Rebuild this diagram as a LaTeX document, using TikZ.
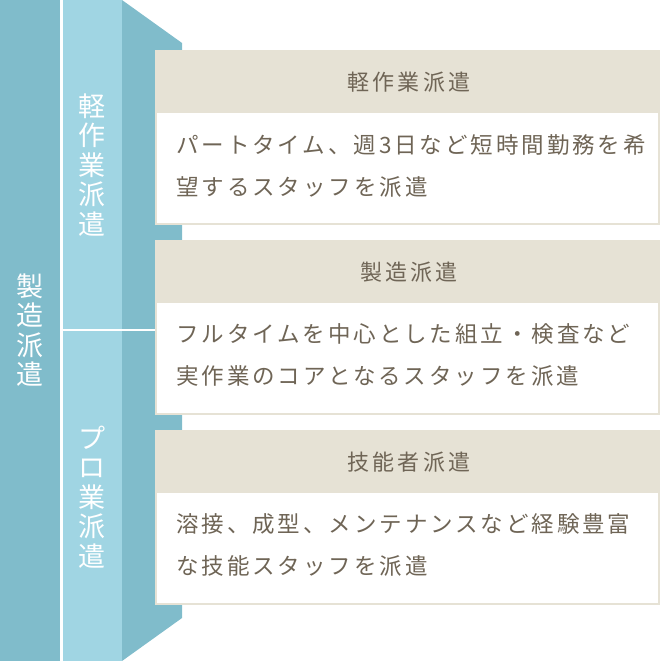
\documentclass[tikz,border=0pt]{standalone}
\usepackage{fontspec}
\setmainfont{Noto Sans CJK JP}
\newfontfamily\spacedfont[LetterSpace=13]{Noto Sans CJK JP}
\newfontfamily\headfont[LetterSpace=15]{Noto Sans CJK JP}
\usepackage{tikz}

\definecolor{colDark}{HTML}{80BCCB}
\definecolor{colLight}{HTML}{A0D5E3}
\definecolor{colBeige}{HTML}{E6E2D5}
\definecolor{colText}{HTML}{6F6556}

\begin{document}
\begin{tikzpicture}[x=1pt, y=-1pt,
  every node/.style = {inner sep=0pt},
  vlabel/.style = {align=center, text=white, font=\fontsize{27}{29.5}\selectfont},
  cardhead/.style = {text=colText, font=\headfont\fontsize{22}{25}\selectfont},
  cardbody/.style = {anchor=west, align=left, text=colText,
    font=\spacedfont\fontsize{22.5}{42}\selectfont}]
  \useasboundingbox (0,0) rectangle (661,661);
  % columns
  \fill[colDark] (0,0) rectangle (60,661);
  \fill[colLight] (63,0) rectangle (122,661);
  \fill[colDark] (122,0) -- (182,43) -- (182,618) -- (122,661) -- cycle;
  \draw[white, line width=2pt] (63,330) -- (155,330);
  \node[vlabel] (main) at (30,330) {製\\造\\派\\遣};
  \node[vlabel] (light) at (92,165) {軽\\作\\業\\派\\遣};
  \node[vlabel] (pro) at (92,497) {プ\\ロ\\業\\派\\遣};
  % cards
  \fill[colBeige] (155,50) rectangle (660,225);
  \fill[white] (157,113) rectangle (658,223);
  \node[cardhead] (head1) at (409,82) {軽作業派遣};
  \node[cardbody] (body1) at (176,166)
    {パートタイム、週3日など短時間勤務を希\\望するスタッフを派遣};
  \fill[colBeige] (155,240) rectangle (660,415);
  \fill[white] (157,303) rectangle (658,413);
  \node[cardhead] (head2) at (409,272) {製造派遣};
  \node[cardbody] (body2) at (176,355)
    {フルタイムを中心とした組立・検査など\\実作業のコアとなるスタッフを派遣};
  \fill[colBeige] (155,430) rectangle (660,605);
  \fill[white] (157,493) rectangle (658,603);
  \node[cardhead] (head3) at (409,462) {技能者派遣};
  \node[cardbody] (body3) at (176,545)
    {溶接、成型、メンテナンスなど経験豊富\\な技能スタッフを派遣};
\end{tikzpicture}
\end{document}
